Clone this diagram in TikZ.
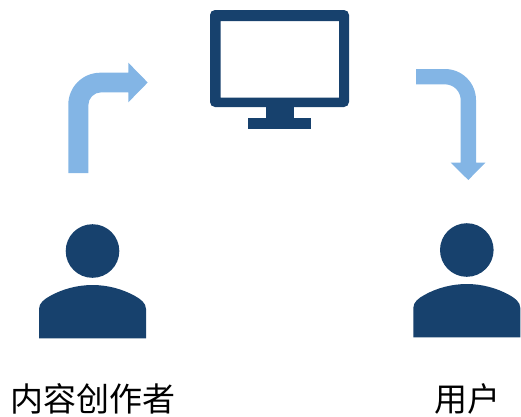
\documentclass[tikz,border=0pt]{standalone}
\usepackage{fontspec}
\newfontfamily\cjk{Noto Sans CJK SC}
\definecolor{iconblue}{RGB}{23,65,109}
\definecolor{flowblue}{RGB}{131,181,229}
\tikzset{
  person/.pic={
    \fill[iconblue] (0,0) circle[radius=26.8];
    \fill[iconblue] (-53.5,87.3) -- (-53.5,58)
       .. controls (-53.5,52) and (-48,48) .. (-42.5,45)
       .. controls (-30,38) and (-15,34) .. (0,34)
       .. controls (15,34) and (30,38) .. (42.5,45)
       .. controls (48,48) and (53.5,52) .. (53.5,58)
       -- (53.5,87.3) -- cycle;
  },
  flow/.style={fill=flowblue},
  caption/.style={inner sep=0,font=\cjk\fontsize{33}{33}\selectfont,text=black}
}
\begin{document}
\begin{tikzpicture}[x=1pt,y=-1pt]
\useasboundingbox (0,0) rectangle (521,416);
% ecran
\fill[iconblue,even odd rule,rounded corners=5pt] (210,10) rectangle (349,107)
     [sharp corners] (220.5,21) rectangle (339,97.5);
\fill[iconblue] (266,105) rectangle (293.5,119);
\fill[iconblue] (248,118) rectangle (311,128.5);
% fleches
\fill[flow] (68.3,173) -- (68.3,104.7) .. controls (68.3,87) and (82.6,72.7) .. (100.3,72.7)
     -- (128.3,72.7) -- (128.3,62.7) -- (147.7,82.5) -- (128.3,102.3) -- (128.3,92.3)
     -- (101.3,92.3) .. controls (94.1,92.3) and (88.3,98.1) .. (88.3,105.3)
     -- (88.3,173) -- cycle;
\fill[flow] (416,69) -- (445,69) .. controls (462.1,69) and (476,82.9) .. (476,100)
     -- (476,162.7) -- (485.3,162.7) -- (468.3,180) -- (450.7,162.7) -- (460.7,162.7)
     -- (460.7,100.3) .. controls (460.7,91.3) and (453.7,84.3) .. (444.7,84.3)
     -- (416,84.3) -- cycle;
% personnes
\pic at (92.5,251) {person};
\pic at (466.8,250) {person};
\node[caption] (creator) at (93,399) {内容创作者};
\node[caption] (user) at (467,399) {用户};
\end{tikzpicture}
\end{document}
